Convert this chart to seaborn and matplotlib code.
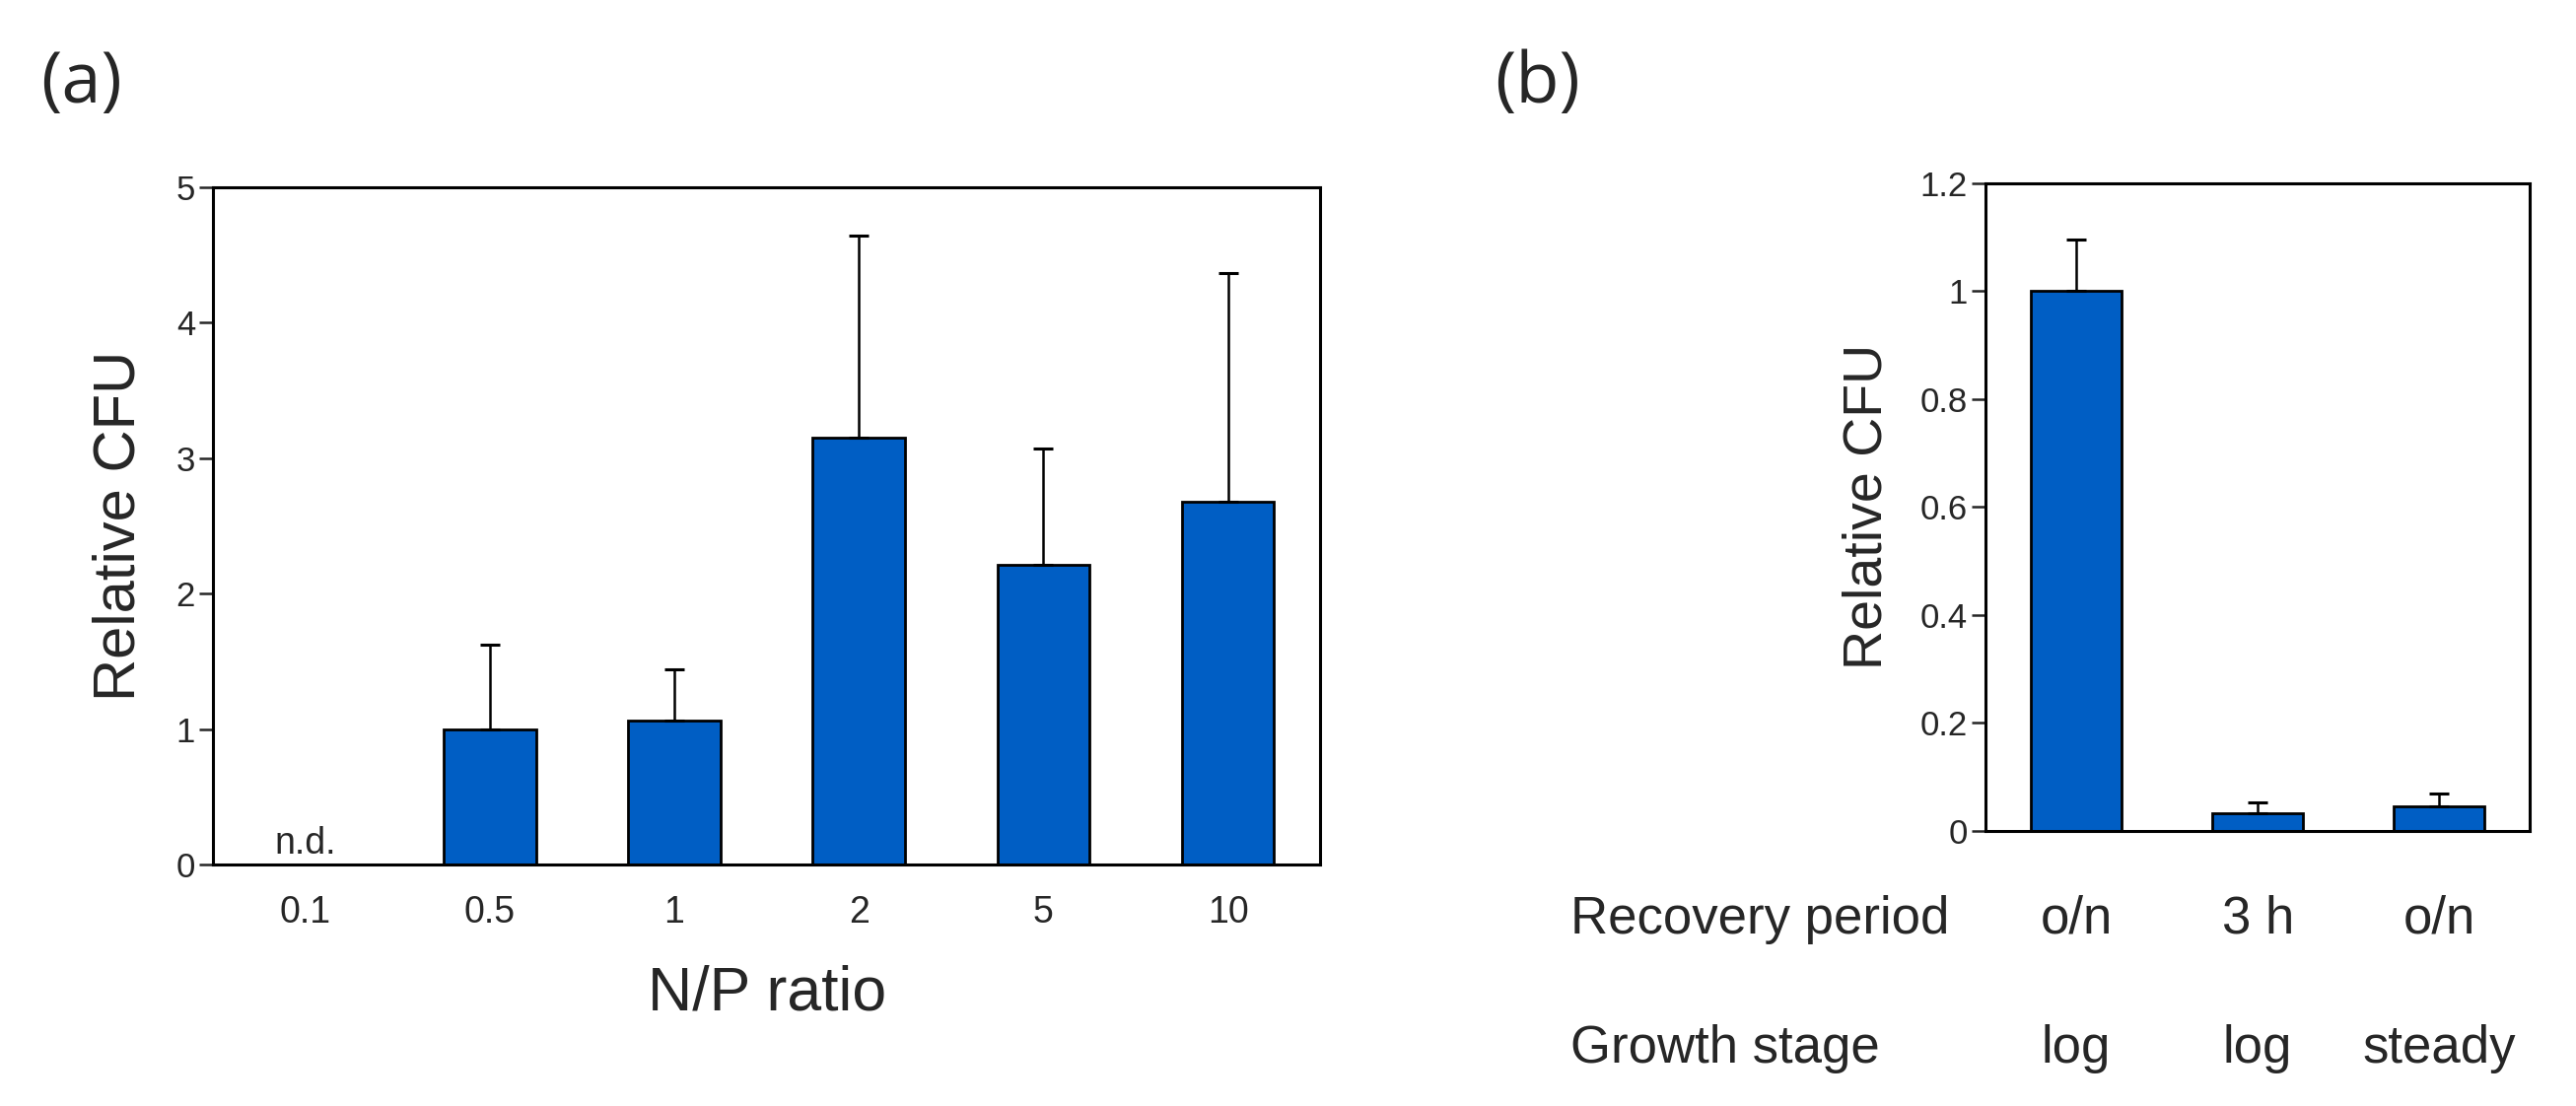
import numpy as np
import pandas as pd
import matplotlib
matplotlib.use("Agg")
import matplotlib.pyplot as plt
import matplotlib.transforms as mtransforms
import seaborn as sns

# panel (a): N/P ratio series
np_ratio = ["0.1", "0.5", "1", "2", "5", "10"]
cfu_a = [0.0, 1.00, 1.06, 3.15, 2.21, 2.68]
err_a = [0.0, 0.62, 0.38, 1.49, 0.86, 1.69]
nd_label = "n.d."

# panel (b): recovery conditions
conditions = ["o/n log", "3 h log", "o/n steady"]
recovery = ["o/n", "3 h", "o/n"]
growth = ["log", "log", "steady"]
cfu_b = [1.00, 0.033, 0.045]
err_b = [0.095, 0.020, 0.025]

bar_color = "#005EC4"

sns.set_theme(style="ticks")
plt.rcParams["font.family"] = ["Liberation Sans", "DejaVu Sans"]
narrow = ["Liberation Sans Narrow", "Liberation Sans", "DejaVu Sans"]

fig = plt.figure(figsize=(26.13, 11.22), dpi=100)
ax_a = fig.add_axes([0.0827, 0.2184, 0.4298, 0.6123])
ax_b = fig.add_axes([0.7708, 0.2487, 0.2113, 0.5856])


def draw_bars(ax, cats, vals, errs):
    df = pd.DataFrame({"cat": cats, "val": vals})
    sns.barplot(data=df, x="cat", y="val", order=cats, color=bar_color,
                saturation=1, width=0.5, edgecolor="black", linewidth=2,
                errorbar=None, ax=ax)
    xs = np.arange(len(cats))
    errs = np.asarray(errs)
    keep = errs > 0
    ax.errorbar(xs[keep], np.asarray(vals)[keep],
                yerr=[np.zeros(keep.sum()), errs[keep]],
                fmt="none", ecolor="black", elinewidth=1.8,
                capsize=7, capthick=2.2, zorder=1)
    ax.set_xlim(-0.5, len(cats) - 0.5)
    for side in ["top", "right", "left", "bottom"]:
        ax.spines[side].set_visible(True)
        ax.spines[side].set_linewidth(2.2)
        ax.spines[side].set_color("black")
    ax.set_xlabel("")
    ax.tick_params(axis="y", direction="out", length=10, width=1.8, pad=3)
    ax.tick_params(axis="x", length=0)


# ---- panel (a)
draw_bars(ax_a, np_ratio, cfu_a, err_a)
ax_a.set_ylim(0, 5)
ax_a.set_yticks([0, 1, 2, 3, 4, 5])
ax_a.set_yticklabels(["0", "1", "2", "3", "4", "5"], family=narrow, fontsize=25)
ax_a.set_xticks(range(len(np_ratio)))
ax_a.set_xticklabels(np_ratio, family=narrow, fontsize=27)
ax_a.tick_params(axis="x", pad=22)
ax_a.set_ylabel("Relative CFU", fontsize=43, labelpad=22)
ax_a.set_xlabel("N/P ratio", fontsize=45, labelpad=25)
ax_a.text(0, 0.08, nd_label, ha="center", va="baseline",
          family=narrow, fontsize=27)

# ---- panel (b)
draw_bars(ax_b, conditions, cfu_b, err_b)
ax_b.set_ylim(0, 1.2)
yt = [0, 0.2, 0.4, 0.6, 0.8, 1.0, 1.2]
ax_b.set_yticks(yt)
ax_b.set_yticklabels(["0", "0.2", "0.4", "0.6", "0.8", "1", "1.2"],
                     family=narrow, fontsize=25)
ax_b.set_xticks(range(len(conditions)))
ax_b.set_xticklabels([])
ax_b.set_ylabel("Relative CFU", fontsize=40, labelpad=20)

row_tf = mtransforms.blended_transform_factory(ax_b.transData, ax_b.transAxes)
for i, (r, g) in enumerate(zip(recovery, growth)):
    ax_b.text(i, -0.158, r, transform=row_tf, ha="center", va="baseline", fontsize=38)
    ax_b.text(i, -0.358, g, transform=row_tf, ha="center", va="baseline", fontsize=38)
ax_b.text(-0.763, -0.158, "Recovery period", transform=ax_b.transAxes,
          ha="left", va="baseline", fontsize=38)
ax_b.text(-0.763, -0.358, "Growth stage", transform=ax_b.transAxes,
          ha="left", va="baseline", fontsize=38)

# panel letters
fig.text(82 / 2613, 1 - 85 / 1122, "(a)", ha="center", va="center",
         fontsize=52, family=["Open Sans", "DejaVu Sans"])
fig.text(1560 / 2613, 1 - 85 / 1122, "(b)", ha="center", va="center",
         fontsize=52, family=["Open Sans", "DejaVu Sans"])

fig.savefig("out.png", dpi=100, facecolor="white")
